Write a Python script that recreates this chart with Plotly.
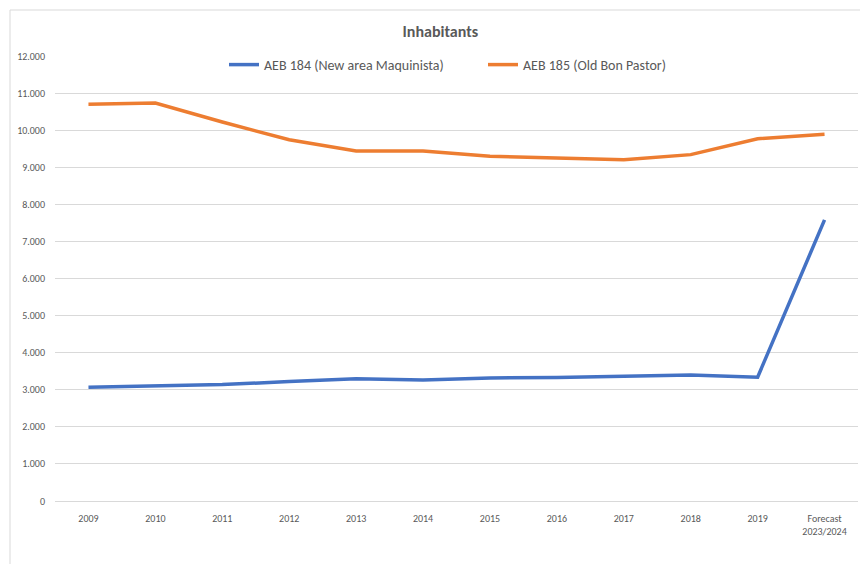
import plotly.graph_objects as go

categories = ["2009", "2010", "2011", "2012", "2013", "2014", "2015", "2016",
              "2017", "2018", "2019", "Forecast<br>2023/2024"]
aeb184 = [3070, 3100, 3140, 3220, 3300, 3260, 3320, 3330, 3370, 3400, 3340, 7580]
aeb185 = [10700, 10730, 10220, 9740, 9440, 9440, 9300, 9250, 9200, 9340, 9770, 9890]
y_ticks = [0, 1000, 2000, 3000, 4000, 5000, 6000, 7000, 8000, 9000, 10000, 11000, 12000]

FONT = "Carlito, Lato, 'Open Sans', sans-serif"
GRAY = "#595959"

fig = go.Figure()
fig.add_trace(go.Scatter(x=categories, y=aeb184, mode="lines",
                         name="AEB 184 (New area Maquinista)",
                         line=dict(color="#4472C4", width=3.5)))
fig.add_trace(go.Scatter(x=categories, y=aeb185, mode="lines",
                         name="AEB 185 (Old Bon Pastor)",
                         line=dict(color="#ED7D31", width=3.5)))

fig.update_layout(
    width=860, height=564,
    margin=dict(l=55, r=2, t=56, b=63, autoexpand=False),
    paper_bgcolor="white", plot_bgcolor="white",
    separators=",.",
    font=dict(family=FONT, color=GRAY, size=10),
    title=dict(text="<b>Inhabitants</b>", x=0.512, xanchor="center",
               y=1 - 31 / 564, yanchor="middle",
               font=dict(family=FONT, size=16, color=GRAY)),
    legend=dict(orientation="h", x=(224 - 55) / 803, xanchor="left",
                y=1 - 9 / 445, yanchor="middle",
                font=dict(family=FONT, size=14, color=GRAY),
                entrywidth=214, entrywidthmode="pixels",
                bgcolor="rgba(0,0,0,0)"),
    showlegend=True,
)
fig.update_xaxes(type="category", range=[-0.5, len(categories) - 0.5],
                 showgrid=False, showline=True,
                 linecolor="#D9D9D9", linewidth=1, ticks="",
                 ticklabelstandoff=8,
                 tickfont=dict(family=FONT, size=10, color=GRAY))
fig.update_yaxes(range=[0, 12000], tickvals=y_ticks, tickformat=",d",
                 showgrid=True, gridcolor="#D9D9D9", gridwidth=1,
                 zeroline=False, showline=False, ticks="",
                 ticklabelstandoff=9,
                 tickfont=dict(family=FONT, size=10, color=GRAY))

# outer chart border (partly cropped in the reference)
fig.add_shape(type="rect", xref="paper", yref="paper",
              x0=(10 - 55) / 803, x1=(880 - 55) / 803,
              y0=(501 - 600) / 445, y1=(501 - 10) / 445,
              line=dict(color="#D9D9D9", width=1), fillcolor="rgba(0,0,0,0)",
              layer="below")

fig.write_html("out.html")
